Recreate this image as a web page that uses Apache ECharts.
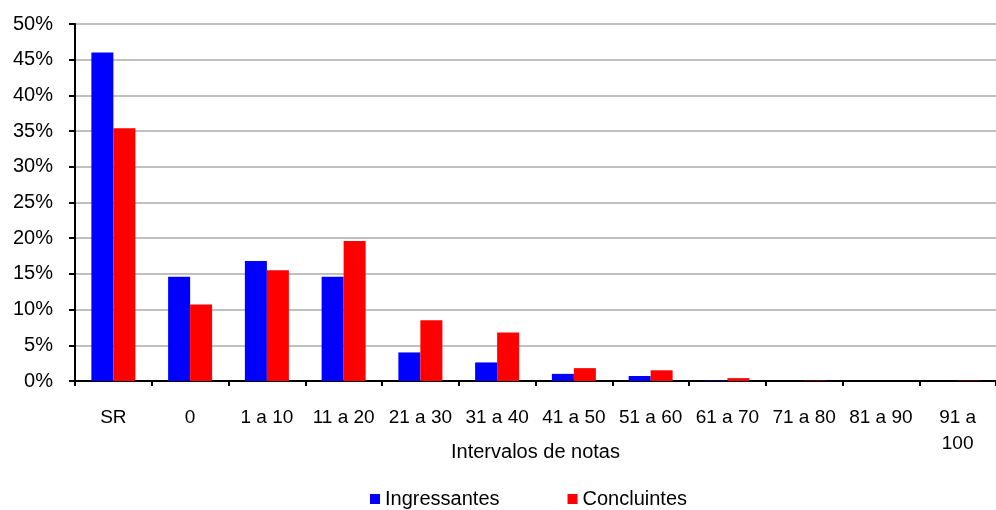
<!DOCTYPE html>
<html>
<head>
<meta charset="utf-8">
<script src="https://cdn.jsdelivr.net/npm/echarts@6/dist/echarts.min.js"></script>
<style>html,body{margin:0;padding:0;background:#fff;}#c{width:996px;height:510px;}</style>
</head>
<body>
<div id="c"></div>
<script>
const categories = ['SR', '0', '1 a 10', '11 a 20', '21 a 30', '31 a 40', '41 a 50', '51 a 60', '61 a 70', '71 a 80', '81 a 90', '91 a 100'];
const ingressantes = [46.0, 14.6, 16.8, 14.6, 4.0, 2.6, 1.0, 0.7, 0.05, 0.0, 0.0, 0.0];
const concluintes = [35.4, 10.7, 15.5, 19.6, 8.5, 6.8, 1.8, 1.5, 0.4, 0.05, 0.0, 0.05];
const yTicks = [0, 5, 10, 15, 20, 25, 30, 35, 40, 45, 50];
const xName = 'Intervalos de notas';
const seriesNames = ['Ingressantes', 'Concluintes'];

const FONT = 'Liberation Sans';
const chart = echarts.init(document.getElementById('c'), null, {renderer: 'canvas'});
chart.setOption({
  animation: false,
  textStyle: {fontFamily: FONT},
  grid: {left: 75, top: 24, width: 936, height: 357, containLabel: false},
  legend: {
    data: seriesNames,
    left: 365, top: 484,
    icon: 'rect', itemWidth: 10, itemHeight: 10, itemGap: 68,
    textStyle: {fontFamily: FONT, fontSize: 20, color: '#000'}
  },
  xAxis: {
    type: 'category',
    data: categories,
    name: xName,
    nameLocation: 'middle',
    nameGap: 61,
    nameMoveOverlap: false,
    nameTextStyle: {fontFamily: FONT, fontSize: 20, color: '#000'},
    axisLine: {lineStyle: {color: '#000', width: 2}},
    axisTick: {show: true, length: 5, lineStyle: {color: '#000', width: 2}},
    axisLabel: {
      interval: 0, margin: 24, fontFamily: FONT, fontSize: 19, lineHeight: 26, color: '#000',
      formatter: v => v === '91 a 100' ? '91 a\n100' : v
    },
    splitLine: {show: false}
  },
  yAxis: {
    type: 'value',
    min: yTicks[0], max: yTicks[yTicks.length - 1], interval: 5,
    axisLine: {show: true, lineStyle: {color: '#000', width: 2}},
    axisTick: {show: true, length: 6, lineStyle: {color: '#000', width: 2}},
    axisLabel: {margin: 22, fontFamily: FONT, fontSize: 20, color: '#000', formatter: v => v + '%'},
    splitLine: {show: true, lineStyle: {color: '#c0c0c0', width: 2}}
  },
  series: [
    {name: seriesNames[0], type: 'bar', data: ingressantes, barWidth: 22, barGap: '0%', itemStyle: {color: '#0000ff'}},
    {name: seriesNames[1], type: 'bar', data: concluintes, barWidth: 22, barGap: '0%', itemStyle: {color: '#ff0000'}}
  ]
});
</script>
</body>
</html>
